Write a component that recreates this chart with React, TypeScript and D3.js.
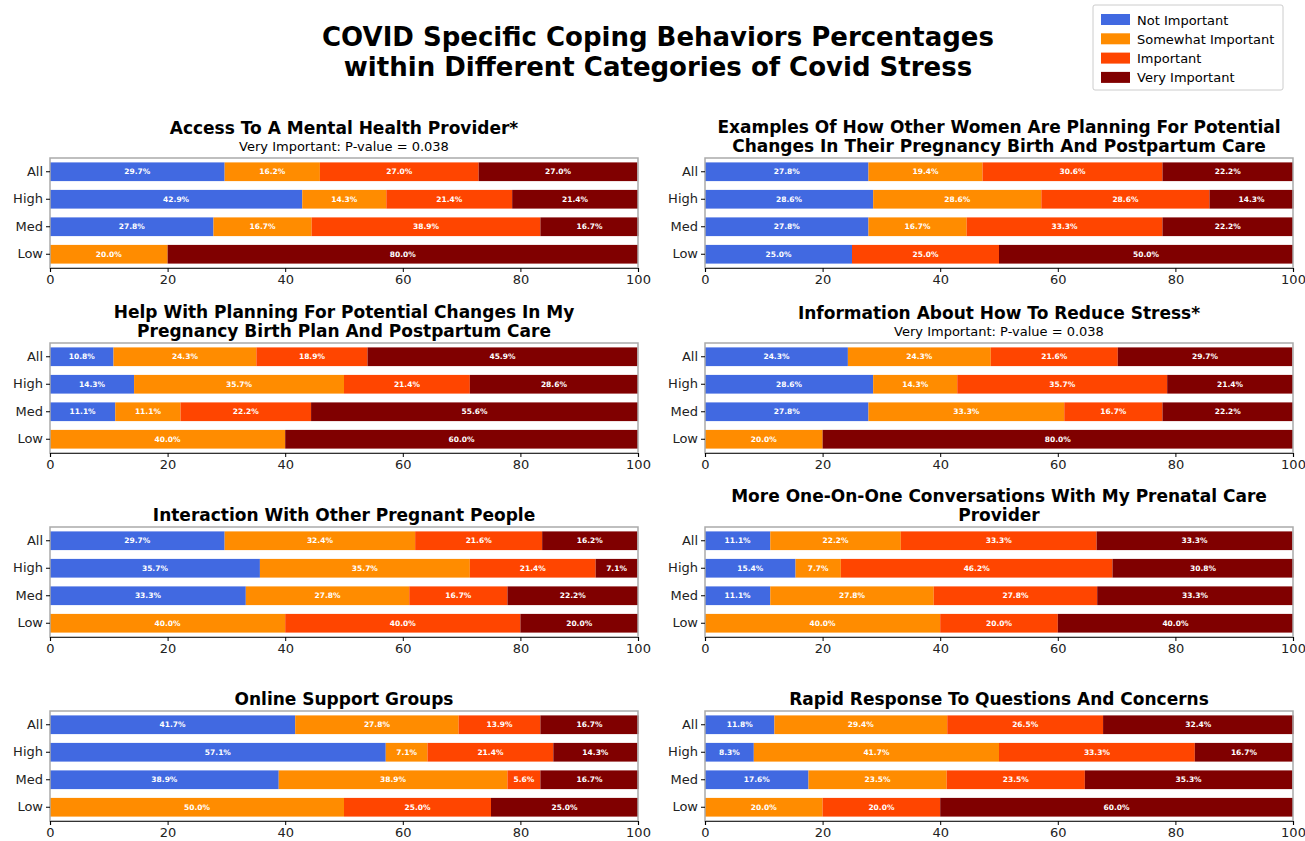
import React, { useRef, useEffect } from 'react';
import * as d3 from 'd3';

// stress categories (top to bottom) and answer levels
const groups = ['All', 'High', 'Med', 'Low'];
const levels = ['Not Important', 'Somewhat Important', 'Important', 'Very Important'];
const colors = ['#4169e1', '#ff8c00', '#ff4500', '#800000'];
const xTicks = [0, 20, 40, 60, 80, 100];

// percentages per group: [not, somewhat, important, very]
const accessMentalHealth = [[29.7, 16.2, 27.0, 27.0], [42.9, 14.3, 21.4, 21.4], [27.8, 16.7, 38.9, 16.7], [0, 20.0, 0, 80.0]];
const examplesOtherWomen = [[27.8, 19.4, 30.6, 22.2], [28.6, 28.6, 28.6, 14.3], [27.8, 16.7, 33.3, 22.2], [25.0, 0, 25.0, 50.0]];
const helpPlanning = [[10.8, 24.3, 18.9, 45.9], [14.3, 35.7, 21.4, 28.6], [11.1, 11.1, 22.2, 55.6], [0, 40.0, 0, 60.0]];
const reduceStress = [[24.3, 24.3, 21.6, 29.7], [28.6, 14.3, 35.7, 21.4], [27.8, 33.3, 16.7, 22.2], [0, 20.0, 0, 80.0]];
const interaction = [[29.7, 32.4, 21.6, 16.2], [35.7, 35.7, 21.4, 7.1], [33.3, 27.8, 16.7, 22.2], [0, 40.0, 40.0, 20.0]];
const oneOnOne = [[11.1, 22.2, 33.3, 33.3], [15.4, 7.7, 46.2, 30.8], [11.1, 27.8, 27.8, 33.3], [0, 40.0, 20.0, 40.0]];
const onlineSupport = [[41.7, 27.8, 13.9, 16.7], [57.1, 7.1, 21.4, 14.3], [38.9, 38.9, 5.6, 16.7], [0, 50.0, 25.0, 25.0]];
const rapidResponse = [[11.8, 29.4, 26.5, 32.4], [8.3, 41.7, 33.3, 16.7], [17.6, 23.5, 23.5, 35.3], [0, 20.0, 20.0, 60.0]];

const pNote = 'Very Important: P-value = 0.038';

const panels = [
  { title: ['Access To A Mental Health Provider*'], sub: pNote, data: accessMentalHealth },
  { title: ['Examples Of How Other Women Are Planning For Potential', 'Changes In Their Pregnancy Birth And Postpartum Care'], sub: null, data: examplesOtherWomen },
  { title: ['Help With Planning For Potential Changes In My', 'Pregnancy Birth Plan And Postpartum Care'], sub: null, data: helpPlanning },
  { title: ['Information About How To Reduce Stress*'], sub: pNote, data: reduceStress },
  { title: ['Interaction With Other Pregnant People'], sub: null, data: interaction },
  { title: ['More One-On-One Conversations With My Prenatal Care', 'Provider'], sub: null, data: oneOnOne },
  { title: ['Online Support Groups'], sub: null, data: onlineSupport },
  { title: ['Rapid Response To Questions And Concerns'], sub: null, data: rapidResponse },
];

const W = 1305;
const H = 841;
const font = 'DejaVu Sans, sans-serif';

function App() {
  const svgRef = useRef(null);

  useEffect(() => {
    const svg = d3.select(svgRef.current);
    svg.selectAll('*').remove();

    // main title
    const mt = svg.append('text')
      .attr('x', 658).attr('y', 37)
      .attr('text-anchor', 'middle')
      .style('font-family', font).style('font-weight', 'bold').style('font-size', '26px');
    mt.append('tspan').attr('x', 658).attr('dy', '0.35em').text('COVID Specific Coping Behaviors Percentages');
    mt.append('tspan').attr('x', 658).attr('dy', '1.15em').text('within Different Categories of Covid Stress');

    // legend
    const lg = svg.append('g').attr('transform', 'translate(1093,5)');
    lg.append('rect').attr('width', 190).attr('height', 85)
      .attr('fill', 'white').attr('stroke', '#ccc').attr('rx', 2);
    levels.forEach((lv, i) => {
      lg.append('rect').attr('x', 8).attr('y', 9 + i * 19.3).attr('width', 29).attr('height', 11).attr('fill', colors[i]);
      lg.append('text').attr('x', 44).attr('y', 15 + i * 19.3).attr('dy', '0.35em')
        .style('font-family', font).style('font-size', '13px').text(lv);
    });

    const cols = [50, 705];
    const rows = [158, 343, 527, 711];
    const pw = 588;
    const ph = 110;

    panels.forEach((p, k) => {
      const x0 = cols[k % 2];
      const y0 = rows[Math.floor(k / 2)];
      const g = svg.append('g').attr('transform', `translate(${x0},${y0})`);

      const x = d3.scaleLinear().domain([0, 100]).range([0, pw]);
      const y = d3.scaleBand().domain(groups).range([0, ph]).paddingInner(0.32).paddingOuter(0.16);

      // titles
      const cx = pw / 2;
      let ly = -12;
      if (p.sub) {
        g.append('text').attr('x', cx).attr('y', ly).attr('dy', '0.35em').attr('text-anchor', 'middle')
          .style('font-family', font).style('font-size', '13px').text(p.sub);
        ly -= 18;
      }
      for (let i = p.title.length - 1; i >= 0; i--) {
        g.append('text').attr('x', cx).attr('y', ly).attr('dy', '0.35em').attr('text-anchor', 'middle')
          .style('font-family', font).style('font-weight', 'bold').style('font-size', '17px').text(p.title[i]);
        ly -= 19;
      }

      // stacked bars
      groups.forEach((grp, gi) => {
        const vals = p.data[gi];
        let acc = 0;
        vals.forEach((v, li) => {
          const start = acc;
          acc += v;
          if (v <= 0) return;
          g.append('rect')
            .attr('x', x(start)).attr('y', y(grp))
            .attr('width', x(start + v) - x(start)).attr('height', y.bandwidth())
            .attr('fill', colors[li]);
          g.append('text')
            .attr('x', x(start + v / 2)).attr('y', y(grp) + y.bandwidth() / 2).attr('dy', '0.35em')
            .attr('text-anchor', 'middle').attr('fill', 'white')
            .style('font-family', font).style('font-weight', 'bold').style('font-size', '7.5px')
            .text(v.toFixed(1) + '%');
        });
      });

      // frame
      g.append('rect').attr('width', pw).attr('height', ph)
        .attr('fill', 'none').attr('stroke', '#aaa').attr('stroke-width', 1.5);

      // axes
      const xAxis = d3.axisBottom(x).tickValues(xTicks).tickSize(4).tickPadding(3);
      const gx = g.append('g').attr('transform', `translate(0,${ph})`).call(xAxis);
      gx.select('.domain').attr('stroke', '#333').attr('stroke-width', 1.2);
      gx.selectAll('text').style('font-family', font).style('font-size', '13px').attr('fill', '#222');

      const yAxis = d3.axisLeft(y).tickSize(4).tickPadding(3);
      const gy = g.append('g').call(yAxis);
      gy.select('.domain').remove();
      gy.selectAll('text').style('font-family', font).style('font-size', '13px').attr('fill', '#222');
    });
  }, []);

  return (
    <div>
      <svg ref={svgRef} width={W} height={H} style={{ position: 'absolute', left: 0, top: 0, background: 'white' }}></svg>
    </div>
  );
}

export default App;
